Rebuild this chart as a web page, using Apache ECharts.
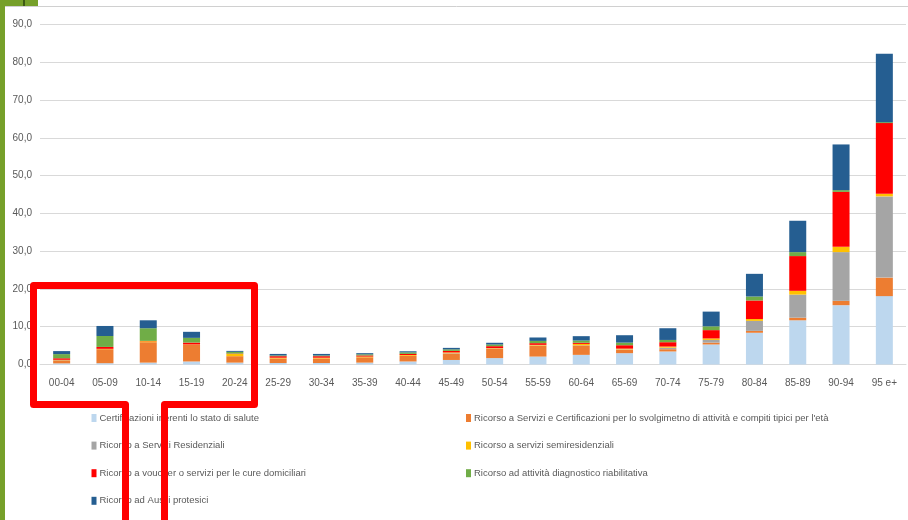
<!DOCTYPE html>
<html>
<head>
<meta charset="utf-8">
<script src="https://cdn.jsdelivr.net/npm/echarts@6/dist/echarts.min.js"></script>
<style>
html,body{margin:0;padding:0;background:#fff;}
#chart{width:908px;height:520px;}
</style>
</head>
<body>
<div id="chart"></div>
<script>
var categories = ['00-04','05-09','10-14','15-19','20-24','25-29','30-34','35-39','40-44','45-49','50-54','55-59','60-64','65-69','70-74','75-79','80-84','85-89','90-94','95 e+'];
var seriesNames = [
  'Certificazioni inerenti lo stato di salute',
  "Ricorso a Servizi e Certificazioni per lo svolgimetno di attività e compiti tipici per l'età",
  'Ricorso a Servizi Residenziali',
  'Ricorso a servizi semiresidenziali',
  'Ricorso a voucher o servizi per le cure domiciliari',
  'Ricorso ad attività diagnostico riabilitativa',
  'Ricorso ad Ausili protesici'
];
var certificazioni = [0.3,0.35,0.5,0.8,0.5,0.4,0.4,0.5,0.8,1.2,1.7,2.1,2.55,3.0,3.45,5.3,8.4,11.7,15.7,18.1];
var serviziCertificazioni = [0.8,3.7,5.4,4.4,1.7,1.2,1.2,1.4,1.5,1.7,2.5,2.9,2.5,0.9,0.6,0.5,0.5,0.7,1.15,4.9];
var residenziali = [0.05,0,0,0,0,0,0,0,0,0.1,0.05,0.05,0.05,0.1,0.4,0.7,2.65,6.1,12.9,21.5];
var semiresidenziali = [0.1,0.1,0.25,0.1,0.6,0.2,0.2,0.2,0.2,0.2,0.1,0.15,0.35,0.2,0.3,0.4,0.5,1.0,1.4,0.7];
var voucher = [0.4,0.5,0.1,0.5,0.1,0.4,0.4,0.3,0.3,0.4,0.5,0.45,0.3,0.9,1.15,2.2,4.9,9.2,14.55,18.7];
var diagnostico = [1.1,2.9,3.35,1.25,0.45,0.2,0.2,0.3,0.4,0.4,0.45,0.6,0.6,0.7,0.6,1.0,1.05,1.05,0.45,0.25];
var ausili = [0.8,2.65,2.1,1.6,0.25,0.4,0.4,0.3,0.3,0.4,0.45,0.9,1.15,1.95,3.1,3.9,6.0,8.3,12.1,18.1];
var yTicks = [0,10,20,30,40,50,60,70,80,90];

var values = [certificazioni, serviziCertificazioni, residenziali, semiresidenziali, voucher, diagnostico, ausili];
var colors = ['#bdd7ee','#ed7d31','#a5a5a5','#ffc000','#ff0000','#70ad47','#255e91'];
var font = "'Liberation Sans Narrow','Liberation Sans',Arial,sans-serif";
var txt = '#595959';

var chart = echarts.init(document.getElementById('chart'), null, {renderer:'canvas'});
var legendBase = {
  orient:'vertical', itemWidth:5, itemHeight:8, itemGap:15.6, icon:'rect',
  textStyle:{color:txt, fontSize:9.5, fontFamily:font, lineHeight:12, padding:[0,0,0,-2]},
  selectedMode:false
};
chart.setOption({
  animation:false,
  backgroundColor:'#fff',
  color: colors,
  grid:{left:40, right:2, top:24.5, bottom:155.5, containLabel:false},
  xAxis:{
    type:'category', data:categories,
    axisLine:{show:true, lineStyle:{color:'#d9d9d9', width:1}},
    axisTick:{show:false},
    axisLabel:{color:txt, fontSize:10, fontFamily:font, margin:14, interval:0}
  },
  yAxis:{
    type:'value', min:yTicks[0], max:yTicks[yTicks.length-1], interval:10,
    axisLine:{show:false}, axisTick:{show:false},
    splitLine:{lineStyle:{color:'#d9d9d9', width:1}},
    axisLabel:{color:txt, fontSize:10, fontFamily:font, margin:8,
      formatter:function(v){return v.toFixed(1).replace('.',',');}}
  },
  legend:[
    Object.assign({}, legendBase, {left:86.5, top:407, data:[seriesNames[0],seriesNames[2],seriesNames[4],seriesNames[6]]}),
    Object.assign({}, legendBase, {left:461, top:407, data:[seriesNames[1],seriesNames[3],seriesNames[5]]})
  ],
  series: seriesNames.map(function(n,i){
    return {name:n, type:'bar', stack:'tot', data:values[i], barWidth:17,
      itemStyle:{color:colors[i]}};
  }),
  graphic:[
    {type:'rect', shape:{x:0,y:0,width:5,height:520}, style:{fill:'#76a02a'}, z:100},
    {type:'rect', shape:{x:0,y:0,width:38,height:6}, style:{fill:'#76a02a'}, z:100},
    {type:'rect', shape:{x:23,y:0,width:2,height:6}, style:{fill:'#3d5a14'}, z:101},
    {type:'line', shape:{x1:5,y1:6.5,x2:908,y2:6.5}, style:{stroke:'#d0d0d0', lineWidth:1}, z:100},
    {type:'polyline', shape:{points:[[125.5,520],[125.5,404.5],[33.5,404.5],[33.5,285.5],[254.5,285.5],[254.5,404.5],[164.5,404.5],[164.5,520]]},
      style:{stroke:'#ff0000', lineWidth:7, fill:null, lineJoin:'round'}, z:200}
  ]
});
</script>
</body>
</html>
